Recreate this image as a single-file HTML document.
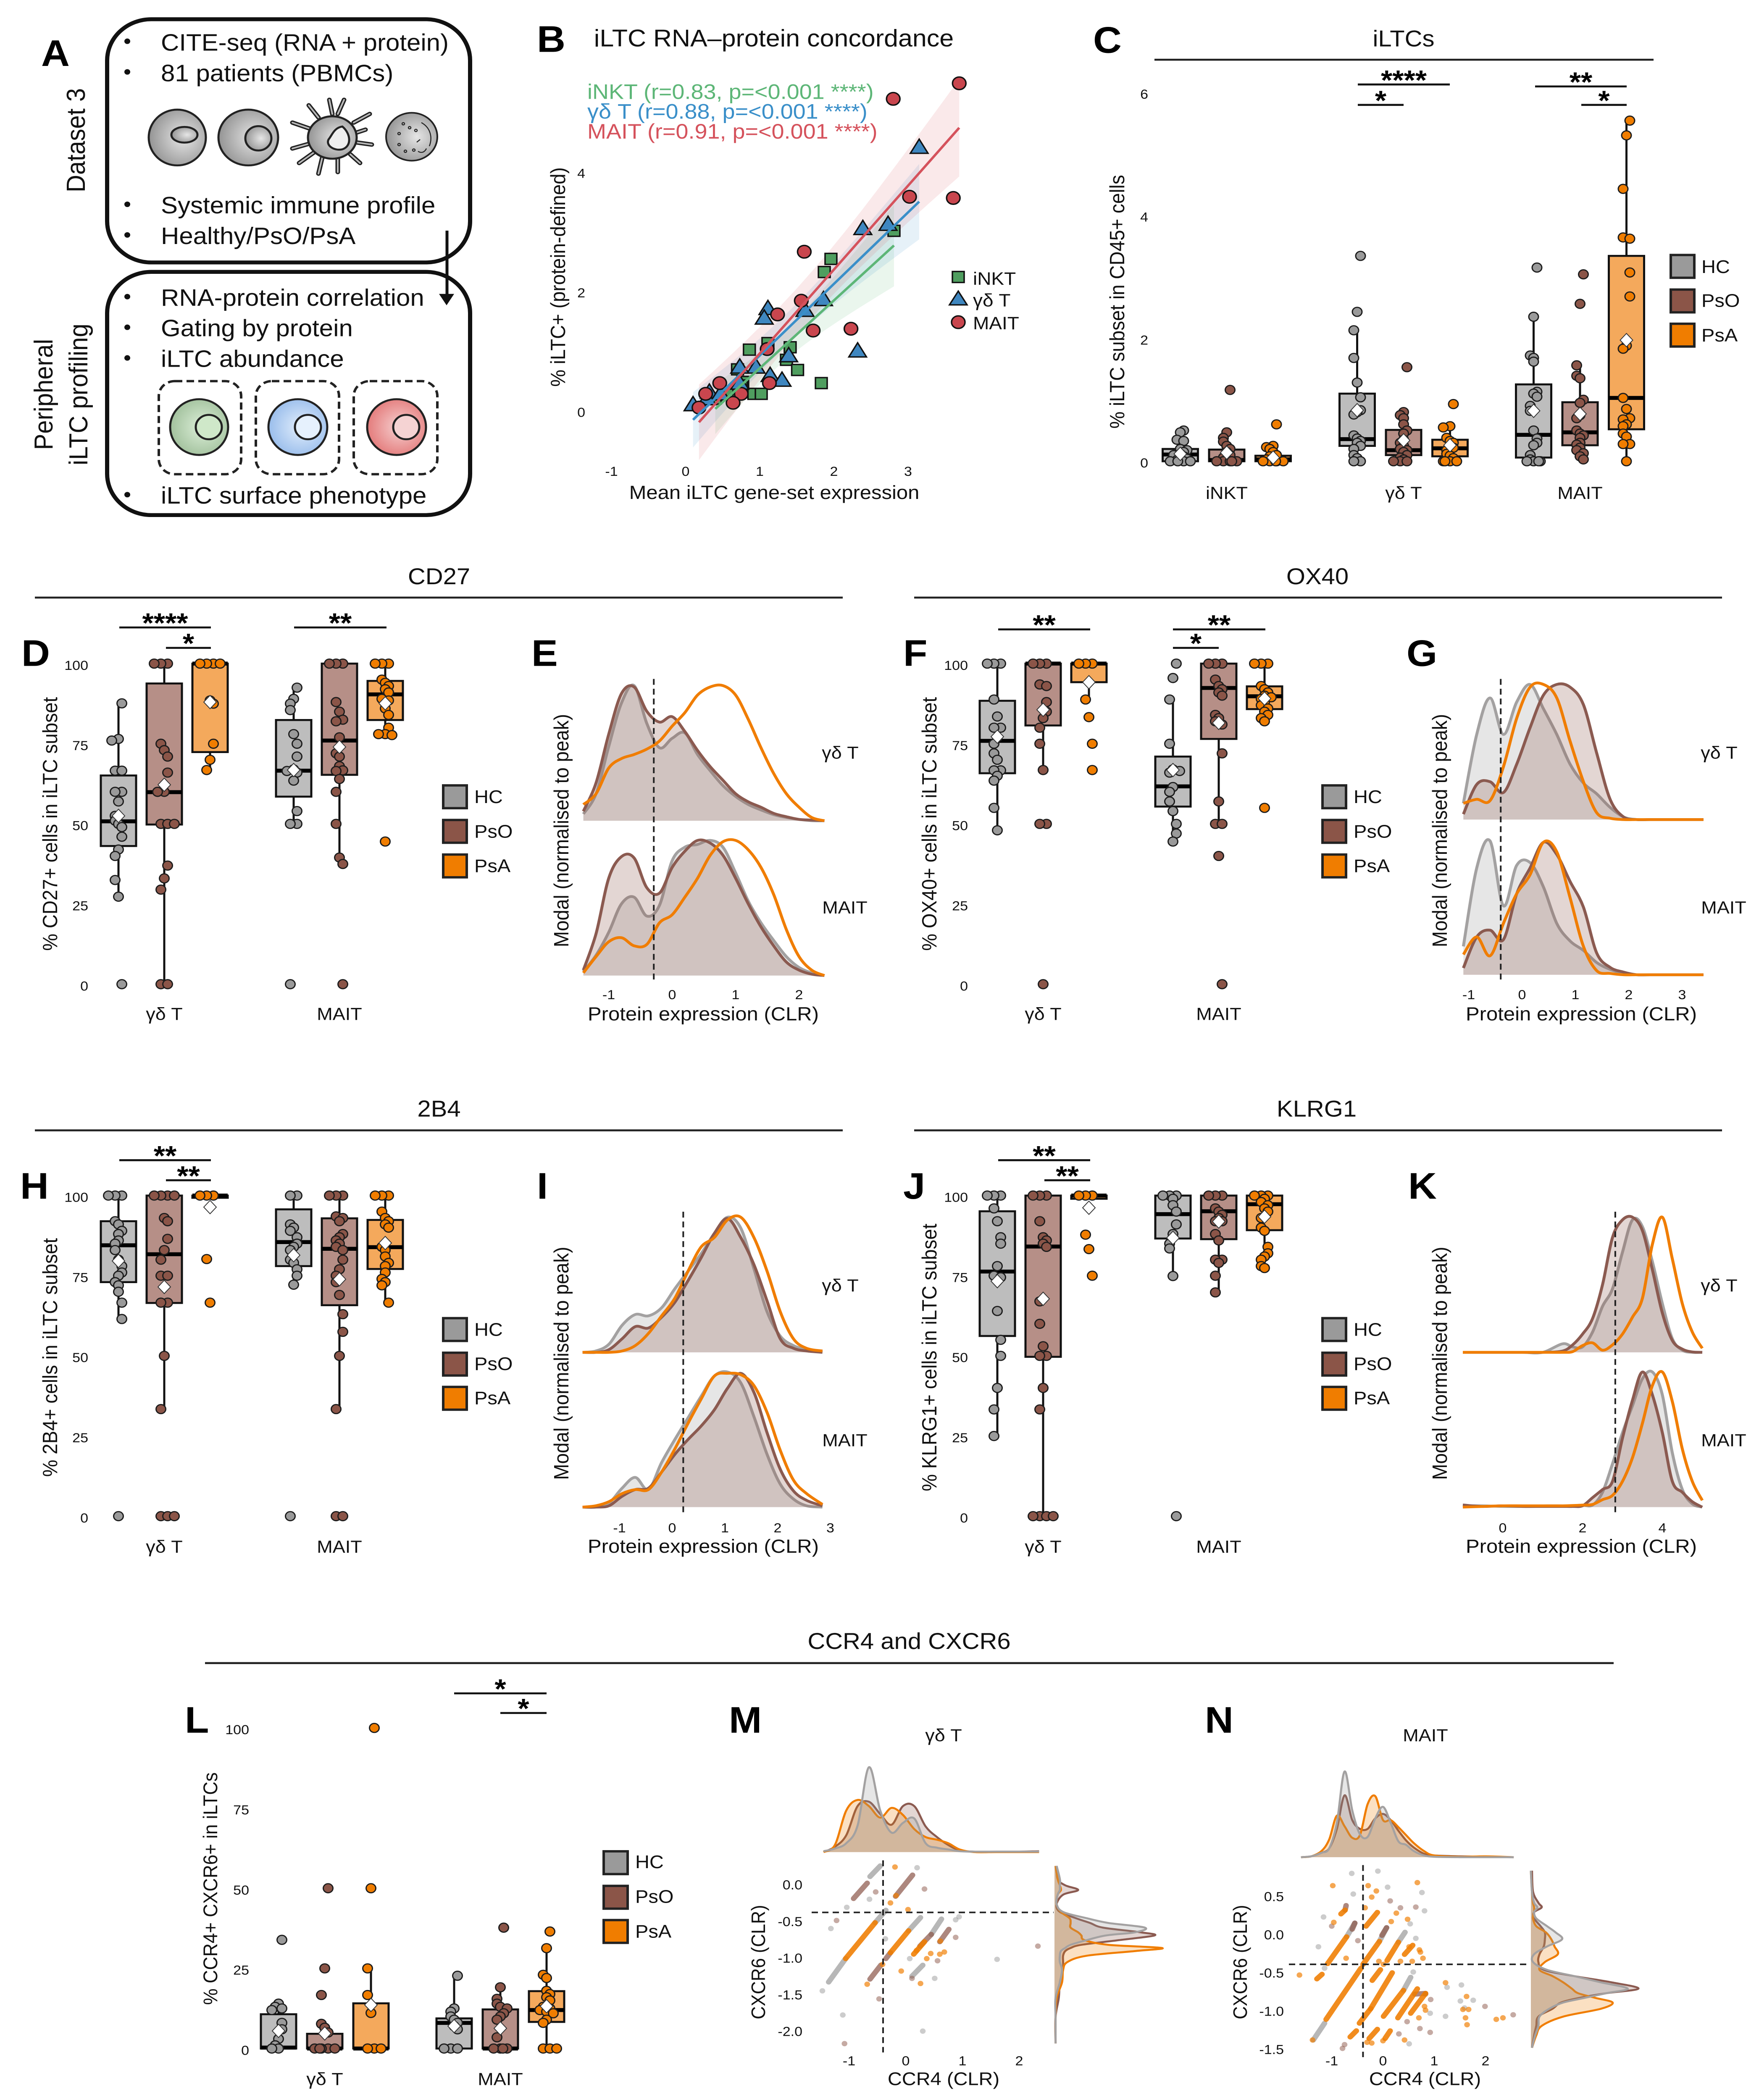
<!DOCTYPE html>
<html lang="en">
<head>
<meta charset="utf-8">
<title>iLTC figure</title>
<style>
html,body{margin:0;padding:0;background:#fff;width:4187px;height:5345px;overflow:hidden}
svg{position:absolute;left:0;top:0;display:block;font-family:"Liberation Sans",sans-serif;fill:#111}
.ltr{font-size:94px;font-weight:700;fill:#000}
.ttl{font-size:58px;text-anchor:middle}
.ax{font-size:49px;text-anchor:middle;dominant-baseline:central}
.tk{font-size:34px}
.cat{font-size:45px;text-anchor:middle}
.leg{font-size:47px;dominant-baseline:central}
.txt{font-size:60px}
.side{font-size:62px;text-anchor:middle;dominant-baseline:central}
.rule{stroke:#222;stroke-width:5}
.sw{stroke:#222;stroke-width:6}
</style>
</head>
<body>
<svg id="figure" xmlns="http://www.w3.org/2000/svg" width="4187" height="5345" viewBox="0 0 4187 5345" preserveAspectRatio="none">
<defs>
<radialGradient id="gGray" cx="60%" cy="50%" r="65%"><stop offset="0" stop-color="#e6e6e6"/><stop offset="1" stop-color="#8d8d8d"/></radialGradient>
<radialGradient id="gGreen" cx="55%" cy="50%" r="60%"><stop offset="0" stop-color="#dcefd8"/><stop offset="1" stop-color="#9dbd98"/></radialGradient>
<radialGradient id="gBlue" cx="55%" cy="50%" r="60%"><stop offset="0" stop-color="#e2eefc"/><stop offset="1" stop-color="#93b9ea"/></radialGradient>
<radialGradient id="gRed" cx="55%" cy="50%" r="60%"><stop offset="0" stop-color="#f6d0d0"/><stop offset="1" stop-color="#e27474"/></radialGradient>
</defs>
<rect width="4187" height="5345" fill="#fff"/>

<!-- Panel A -->
<g id="panel-a">
<text class="ltr" x="98" y="168">A</text>
<rect x="255" y="49" width="864" height="619" rx="105" fill="none" stroke="#111" stroke-width="10"/>
<rect x="255" y="692" width="864" height="619" rx="105" fill="none" stroke="#111" stroke-width="10"/>
<text class="side" transform="translate(181 357) rotate(-90)">Dataset 3</text>
<text class="side" transform="translate(104 1004) rotate(-90)">Peripheral</text>
<text class="side" transform="translate(187 1004) rotate(-90)">iLTC profiling</text>
<g fill="#111">
<circle cx="303" cy="105" r="7"/><circle cx="303" cy="183" r="7"/><circle cx="303" cy="520" r="7"/><circle cx="303" cy="598" r="7"/>
<circle cx="303" cy="755" r="7"/><circle cx="303" cy="833" r="7"/><circle cx="303" cy="911" r="7"/><circle cx="303" cy="1259" r="7"/>
</g>
<text class="txt" x="383" y="129">CITE-seq (RNA + protein)</text>
<text class="txt" x="383" y="207">81 patients (PBMCs)</text>
<text class="txt" x="383" y="543">Systemic immune profile</text>
<text class="txt" x="383" y="621">Healthy/PsO/PsA</text>
<text class="txt" x="383" y="778">RNA-protein correlation</text>
<text class="txt" x="383" y="856">Gating by protein</text>
<text class="txt" x="383" y="934">iLTC abundance</text>
<text class="txt" x="383" y="1282">iLTC surface phenotype</text>
<g stroke="#222" stroke-width="5">
<ellipse cx="422" cy="350" rx="68" ry="71" fill="url(#gGray)"/><ellipse cx="439" cy="343" rx="31" ry="20" fill="url(#gGray)"/>
<ellipse cx="591" cy="350" rx="71" ry="71" fill="url(#gGray)"/><ellipse cx="615" cy="352" rx="31" ry="31" fill="url(#gGray)"/>
<path d="M735 268L758 299M784 254L791 290M819 254L804 290M880 290L842 312M696 312L742 329M696 378L742 364M712 415L750 386M758 442L768 397M804 438L804 400M857 415L834 393M885 368L845 362M870 330L850 337" stroke="#222" stroke-width="11" stroke-linecap="round" fill="none"/>
<path d="M735 268L758 299M784 254L791 290M819 254L804 290M880 290L842 312M696 312L742 329M696 378L742 364M712 415L750 386M758 442L768 397M804 438L804 400M857 415L834 393M885 368L845 362M870 330L850 337" stroke="#bbb" stroke-width="4" stroke-linecap="round" fill="none"/>
<ellipse cx="791" cy="350" rx="58" ry="54" fill="url(#gGray)"/>
<path d="M815 322C835 340 838 372 815 380C795 385 775 370 782 355C790 345 795 325 815 322Z" fill="#eee"/>
<ellipse cx="980" cy="348" rx="61" ry="61" fill="url(#gGray)" stroke-width="4"/>
<g fill="none" stroke-width="2.5"><circle cx="960" cy="315" r="3"/><circle cx="975" cy="325" r="3"/><circle cx="950" cy="340" r="3"/><circle cx="990" cy="332" r="3"/><circle cx="965" cy="385" r="3"/><circle cx="950" cy="368" r="3"/><circle cx="985" cy="382" r="3"/><path d="M1003 312C1025 325 1030 350 1022 372M1000 355L992 362M995 385C1005 392 1012 385 1015 378"/></g>
</g>
<g stroke="#222" stroke-width="5">
<rect x="378" y="970" width="196" height="237" rx="38" fill="none" stroke-dasharray="18 10" stroke-width="6"/>
<rect x="609" y="970" width="198" height="237" rx="38" fill="none" stroke-dasharray="18 10" stroke-width="6"/>
<rect x="842" y="970" width="199" height="237" rx="38" fill="none" stroke-dasharray="18 10" stroke-width="6"/>
<ellipse cx="474" cy="1087" rx="69" ry="71" fill="url(#gGreen)"/><ellipse cx="497" cy="1087" rx="31" ry="31" fill="#cfe8c9"/>
<ellipse cx="709" cy="1087" rx="70" ry="71" fill="url(#gBlue)"/><ellipse cx="733" cy="1087" rx="31" ry="31" fill="#e6f1fd"/>
<ellipse cx="944" cy="1087" rx="70" ry="71" fill="url(#gRed)"/><ellipse cx="967" cy="1087" rx="31" ry="31" fill="#f5d3d3"/>
</g>
<g><line x1="1064" y1="587" x2="1064" y2="755" stroke="#111" stroke-width="7"/><path d="M1045 748H1081L1063 777Z" fill="#111"/></g>
</g>

<!-- Panel B static -->
<text class="ltr" x="1278" y="132">B</text>
<text class="ttl" style="font-size:61px" x="1842" y="118">iLTC RNA–protein concordance</text>
<text x="1398" y="252" font-size="54" fill="#5db677">iNKT (r=0.83, p=&lt;0.001 ****)</text>
<text x="1398" y="302" font-size="54" fill="#3a8fc9">γδ T (r=0.88, p=&lt;0.001 ****)</text>
<text x="1398" y="353" font-size="54" fill="#d5525c">MAIT (r=0.91, p=&lt;0.001 ****)</text>
<text class="ax" transform="translate(1329 705) rotate(-90)">% iLTC+ (protein-defined)</text>
<text class="ax" x="1843" y="1254">Mean iLTC gene-set expression</text>
<g>
<rect x="2267" y="691" width="28" height="28" fill="#4f9e5f" stroke="#111" stroke-width="3.5"/>
<path d="M2260 776H2302L2281 741Z" fill="#3f87c0" stroke="#111" stroke-width="3.5"/>
<circle cx="2281" cy="820" r="16" fill="#c9464e" stroke="#111" stroke-width="3.5"/>
<text x="2316" y="725" font-size="46">iNKT</text>
<text x="2316" y="780" font-size="46">γδ T</text>
<text x="2316" y="838" font-size="46">MAIT</text>
</g>
<g id="marks-b"></g>

<!-- Panel C static -->
<text class="ltr" x="2602" y="134">C</text>
<text class="ttl" x="3341" y="118">iLTCs</text>
<line class="rule" x1="2748" y1="152" x2="3936" y2="152"/>
<text class="ax" transform="translate(2660 768) rotate(-90)">% iLTC subset in CD45+ cells</text>
<g>
<rect class="sw" x="3977" y="649" width="56" height="58" fill="#9a9a9a"/><rect class="sw" x="3977" y="737" width="56" height="58" fill="#8b5548"/><rect class="sw" x="3977" y="824" width="56" height="58" fill="#f07d00"/>
<text class="leg" x="4050" y="679">HC</text><text class="leg" x="4050" y="765">PsO</text><text class="leg" x="4050" y="853">PsA</text>
</g>
<g id="marks-c"></g>

<!-- CD27 -->
<text class="ttl" x="1045" y="1487">CD27</text>
<line class="rule" x1="83" y1="1521" x2="2006" y2="1521"/>
<text class="ltr" x="51" y="1695">D</text>
<text class="ltr" x="1265" y="1695">E</text>
<text class="ax" transform="translate(120 2097) rotate(-90)">% CD27+ cells in iLTC subset</text>
<text class="ax" transform="translate(1337 2114) rotate(-90)">Modal (normalised to peak)</text>
<text class="ax" x="1674" y="2581">Protein expression (CLR)</text>
<text class="cat" x="2000" y="1931">γδ T</text>
<text class="cat" x="2011" y="2325">MAIT</text>
<g>
<rect class="sw" x="1055" y="1999" width="56" height="58" fill="#9a9a9a"/><rect class="sw" x="1055" y="2087" width="56" height="58" fill="#8b5548"/><rect class="sw" x="1055" y="2175" width="56" height="58" fill="#f07d00"/>
<text class="leg" x="1129" y="2028">HC</text><text class="leg" x="1129" y="2116">PsO</text><text class="leg" x="1129" y="2204">PsA</text>
</g>
<g id="marks-d"></g>
<g id="marks-e"></g>

<!-- OX40 -->
<text class="ttl" x="3136" y="1487">OX40</text>
<line class="rule" x1="2176" y1="1521" x2="4099" y2="1521"/>
<text class="ltr" x="2150" y="1695">F</text>
<text class="ltr" x="3348" y="1695">G</text>
<text class="ax" transform="translate(2213 2097) rotate(-90)">% OX40+ cells in iLTC subset</text>
<text class="ax" transform="translate(3428 2114) rotate(-90)">Modal (normalised to peak)</text>
<text class="ax" x="3764" y="2581">Protein expression (CLR)</text>
<text class="cat" x="4092" y="1931">γδ T</text>
<text class="cat" x="4103" y="2325">MAIT</text>
<g>
<rect class="sw" x="3148" y="1999" width="56" height="58" fill="#9a9a9a"/><rect class="sw" x="3148" y="2087" width="56" height="58" fill="#8b5548"/><rect class="sw" x="3148" y="2175" width="56" height="58" fill="#f07d00"/>
<text class="leg" x="3222" y="2028">HC</text><text class="leg" x="3222" y="2116">PsO</text><text class="leg" x="3222" y="2204">PsA</text>
</g>
<g id="marks-f"></g>
<g id="marks-g"></g>

<!-- 2B4 -->
<text class="ttl" x="1045" y="2842">2B4</text>
<line class="rule" x1="83" y1="2877" x2="2006" y2="2877"/>
<text class="ltr" x="48" y="3051">H</text>
<text class="ltr" x="1278" y="3051">I</text>
<text class="ax" transform="translate(120 3455) rotate(-90)">% 2B4+ cells in iLTC subset</text>
<text class="ax" transform="translate(1337 3470) rotate(-90)">Modal (normalised to peak)</text>
<text class="ax" x="1674" y="3936">Protein expression (CLR)</text>
<text class="cat" x="2000" y="3287">γδ T</text>
<text class="cat" x="2011" y="3681">MAIT</text>
<g>
<rect class="sw" x="1055" y="3355" width="56" height="58" fill="#9a9a9a"/><rect class="sw" x="1055" y="3443" width="56" height="58" fill="#8b5548"/><rect class="sw" x="1055" y="3530" width="56" height="58" fill="#f07d00"/>
<text class="leg" x="1129" y="3384">HC</text><text class="leg" x="1129" y="3471">PsO</text><text class="leg" x="1129" y="3558">PsA</text>
</g>
<g id="marks-h"></g>
<g id="marks-i"></g>

<!-- KLRG1 -->
<text class="ttl" x="3134" y="2842">KLRG1</text>
<line class="rule" x1="2176" y1="2877" x2="4099" y2="2877"/>
<text class="ltr" x="2150" y="3051">J</text>
<text class="ltr" x="3352" y="3051">K</text>
<text class="ax" transform="translate(2213 3455) rotate(-90)">% KLRG1+ cells in iLTC subset</text>
<text class="ax" transform="translate(3428 3470) rotate(-90)">Modal (normalised to peak)</text>
<text class="ax" x="3764" y="3936">Protein expression (CLR)</text>
<text class="cat" x="4092" y="3287">γδ T</text>
<text class="cat" x="4103" y="3681">MAIT</text>
<g>
<rect class="sw" x="3148" y="3355" width="56" height="58" fill="#9a9a9a"/><rect class="sw" x="3148" y="3443" width="56" height="58" fill="#8b5548"/><rect class="sw" x="3148" y="3530" width="56" height="58" fill="#f07d00"/>
<text class="leg" x="3222" y="3384">HC</text><text class="leg" x="3222" y="3471">PsO</text><text class="leg" x="3222" y="3558">PsA</text>
</g>
<g id="marks-j"></g>
<g id="marks-k"></g>

<!-- CCR4 / CXCR6 -->
<text class="ttl" x="2164" y="4197">CCR4 and CXCR6</text>
<line class="rule" x1="488" y1="4233" x2="3841" y2="4233"/>
<text class="ltr" x="440" y="4410">L</text>
<text class="ltr" x="1735" y="4410">M</text>
<text class="ltr" x="2868" y="4410">N</text>
<text class="ax" style="font-size:47px" transform="translate(501 4807) rotate(-90)">% CCR4+ CXCR6+ in iLTCs</text>
<g>
<rect class="sw" x="1437" y="4712" width="57" height="58" fill="#9a9a9a"/><rect class="sw" x="1437" y="4800" width="57" height="58" fill="#8b5548"/><rect class="sw" x="1437" y="4887" width="57" height="58" fill="#f07d00"/>
<text class="leg" x="1512" y="4739">HC</text><text class="leg" x="1512" y="4827">PsO</text><text class="leg" x="1512" y="4916">PsA</text>
</g>
<text class="cat" x="2246" y="4432">γδ T</text>
<text class="cat" x="3393" y="4432">MAIT</text>
<text class="ax" style="font-size:47px" x="2246" y="5291">CCR4 (CLR)</text>
<text class="ax" style="font-size:47px" x="3392" y="5291">CCR4 (CLR)</text>
<text class="ax" style="font-size:46px" transform="translate(1806 4994) rotate(-90)">CXCR6 (CLR)</text>
<text class="ax" style="font-size:46px" transform="translate(2953 4994) rotate(-90)">CXCR6 (CLR)</text>
<g id="marks-l"></g>
<g id="marks-m"></g>
<g id="marks-n"></g>
</svg>

<script>
/* ---------- Panel B data ---------- */
const bXTicks=[-1,0,1,2,3];
const bYTicks=[0,2,4];
const bInkt=[[2.81,3.01],[1.96,2.54],[1.87,2.32],[1.11,1.13],[.86,1.02],[1.41,1.06],[1.36,.85],[1.51,.68],[.70,.69],[1.83,.46],[.77,.48],[.75,.42],[.92,.28],[1.02,.28],[.56,.29],[.4,.2]];
const bGd=[[3.15,4.42],[2.39,3.06],[2.73,3.13],[1.86,1.87],[1.61,1.69],[1.11,1.72],[1.06,1.56],[2.32,1.01],[1.39,.93],[.95,.74],[.73,.74],[1.14,.6],[1.3,.52],[.73,.47],[.32,.32],[.47,.29],[.1,.11],[.29,.21]];
const bMait=[[3.69,5.48],[2.80,5.22],[3.02,3.58],[3.61,3.56],[1.60,2.66],[1.56,1.84],[1.24,1.61],[1.72,1.34],[2.23,1.37],[1.10,1.03],[1.13,.46],[.46,.46],[.27,.28],[.75,.28],[.64,.13],[.18,.05]];

/* ---------- Panel C data: box = [whiskerLow,q1,median,q3,whiskerHigh,mean] ---------- */
const cCategories=['iNKT','γδ T','MAIT'];
const cTicks=[0,2,4,6];
const cInktBox=[[0,0,.11,.2,.2,.12],[0,0,.02,.19,.19,.14],[0,0,.03,.09,.09,.06]];
const cGdBox=[[0,.25,.36,1.10,2.12,.83],[0,.1,.18,.51,.8,.34],[0,.08,.21,.35,.57,.26]];
const cMaitBox=[[0,.06,.43,1.25,2.34,.82],[0,.26,.47,.96,1.55,.77],[0,.52,1.03,3.34,5.54,1.97]];
const cInktPts=[[.5,.47,.35,.33,.2,.18,.15,.12,.1,.08,.05,.04,.02,0,0,0,0],[1.16,.47,.38,.32,.25,.2,.15,.1,.06,.03,0,0,0,0,0],[.6,.25,.23,.2,.15,.1,.08,.05,.03,0,0,0,0,0]];
const cGdPts=[[3.34,2.43,2.13,1.68,1.28,1.04,.83,.8,.76,.42,.37,.33,.3,.25,.2,.1,.05,0,0],[1.53,.8,.75,.7,.6,.5,.45,.35,.3,.25,.2,.18,.15,.1,.06,.03,0,0,0],[.93,.57,.55,.38,.33,.3,.25,.22,.18,.12,.09,.05,0,0,0,0]];
const cMaitPts=[[3.15,2.35,1.72,1.68,1.62,1.13,1.1,1.05,.9,.82,.5,.37,.3,.26,.1,.03,0,0,0,0],[3.04,2.56,1.56,1.39,1.35,1,.95,.75,.7,.5,.45,.42,.38,.3,.27,.22,.18,.13,.08,.03],[5.54,5.3,4.43,3.64,3.62,3.07,2.68,1.88,1.83,1.03,.85,.7,.68,.6,.57,.45,.4,.28,.28,0]];

/* ---------- Shared percent axis ---------- */
const pctTicks=[0,25,50,75,100];
const subsetCategories=['γδ T','MAIT'];

/* ---------- Panel D data ---------- */
const dGdBox=[[27.3,43.1,50.8,65.1,87.6,52.5],[0,49.8,59.9,93.8,100,62.2],[66.8,72.4,100,100,100,88]];
const dMaitBox=[[50,58.5,66.6,82.4,92,66.8],[37.3,65.3,76,100,100,74],[77.7,82.4,90.4,94.6,100,87.6]];
const dGdPts=[[87.6,76.5,76,66.6,66.6,60,60,57,52.5,51,50,49,46,42,40,32.5,27.3,0],[100,100,100,75,73,71,66,60,60,50,50,50,37,33,29.5,0,0],[100,100,100,100,88.5,87.5,75,70,66.8]];
const dMaitPts=[[92.5,89,87.5,85.5,78,75,71,67,66.5,66,63.5,54,50,50,0],[100,100,100,88,85,82.5,82,77,72,71,68,66.7,66.5,64,60,50,39.5,37.5,0],[100,100,100,95,94,93,92,91,89,88.5,86,84,80,78,78,77.7,44.5]];

/* ---------- Panel E data ---------- */
const eTicks=[-1,0,1,2];
const eCut=[-.29];
const eX=[-1.4,-1.2,-1,-.8,-.6,-.4,-.2,0,.2,.4,.6,.8,1,1.2,1.4,1.6,1.8,2,2.2,2.4];
const eGdHC=[.05,.2,.55,.87,1,.72,.54,.61,.65,.49,.37,.26,.18,.12,.08,.045,.024,.01,0,0];
const eGdPsO=[.07,.28,.64,.94,.99,.81,.73,.77,.66,.52,.4,.3,.2,.14,.1,.055,.03,.01,.005,0];
const eGdPsA=[.12,.2,.39,.46,.49,.53,.59,.7,.8,.93,.99,1,.93,.75,.54,.35,.2,.1,.024,0];
const eMaitHC=[.03,.15,.32,.53,.58,.44,.52,.85,.95,.97,1,.95,.76,.55,.39,.26,.14,.06,.02,0];
const eMaitPsO=[.04,.31,.72,.88,.87,.65,.61,.8,.92,1,.98,.89,.72,.53,.36,.22,.1,.04,.01,0];
const eMaitPsA=[.02,.14,.25,.28,.22,.23,.39,.45,.58,.72,.89,.99,1,.93,.8,.6,.34,.14,.04,0];

/* ---------- Panel F data ---------- */
const fGdBox=[[48,65.8,75.9,88.4,100,77.2],[66.8,80.7,100,100,100,85.6],[88.8,94.2,100,100,100,94.2]];
const fMaitBox=[[44.4,55.4,61.7,71,88.8,66.8],[50,76.5,92.4,100,100,81.5],[81.8,85.8,89.8,92.9,100,89.1]];
const fGdPts=[[100,100,100,88.8,83.5,80,80,77,75,72,70,66.7,66.7,65,63.5,55,48],[100,100,100,93.5,93,88,85,83,80,75,66.8,50,50,0],[100,100,100,88.8,83.3,75,66.8]];
const fMaitPts=[[100,95.5,88.8,75,67,66.5,66,61.5,60,57,54,50,47,44.5],[100,100,100,95,93,92,91,90,84,83,82,81,72,57,50,50,40,0],[100,100,100,93,92,91,90,89.5,89,88,87,86,85,84,83,82,55]];

/* ---------- Panel G data ---------- */
const gTicks=[-1,0,1,2,3];
const gCut=[-.4];
const gX=[-1.1,-.85,-.6,-.35,-.1,.15,.4,.65,.9,1.15,1.4,1.65,1.9,2.15,2.4,2.65,2.9,3.15,3.4];
const gGdHC=[.12,.63,.9,.63,.87,1,.82,.63,.41,.27,.19,.09,.02,0,0,0,0,0,0];
const gGdPsO=[.04,.26,.28,.2,.41,.68,.92,1,.98,.85,.49,.15,.02,0,0,0,0,0,0];
const gGdPsA=[.12,.15,.14,.39,.75,.98,1,.9,.58,.28,.05,.01,0,0,0,0,0,0,0];
const gMaitHC=[.21,.79,.99,.51,.81,.83,.65,.38,.25,.18,.09,.04,.01,0,0,0,0,0,0];
const gMaitPsO=[.05,.28,.33,.26,.6,.79,.98,.89,.69,.5,.16,.055,.02,0,0,0,0,0,0];
const gMaitPsA=[.15,.28,.14,.38,.6,.74,.98,.91,.57,.21,.03,.01,0,0,0,0,0,0,0];

/* ---------- Panel H data ---------- */
const hGdBox=[[61.5,73,84.5,92,100,79.6],[33.4,66.5,81.7,100,100,71.5],[99.3,99.3,100,100,100,96.4]];
const hMaitBox=[[72.2,78,85.5,95.7,100,81.4],[33.4,65.8,83.4,92.9,100,73.9],[66.6,77.1,83.9,92.4,100,85.2]];
const hGdPts=[[100,100,100,92,91,89,88,86,85,83,80,78,76,75,73,72,70,66.6,61.5,0],[100,100,100,100,93,92,86.5,83,80,75,75,66.6,66.6,50,33.4,0,0,0],[100,100,100,80.2,66.6]];
const hMaitPts=[[100,100,91,90,89,87,85,84,83,80,79,77,75,72.2,0],[100,100,100,93.5,93,92,88,87,86,85,84,83,80,77,75,73,69,63,57.5,50,33.4,0,0],[100,100,100,95,93,92,91,90,84,83,81,79,78,76,74,73,72,66.6]];

/* ---------- Panel I data ---------- */
const iTicks=[-1,0,1,2,3];
const iCut=[.21];
const iX=[-1.7,-1.45,-1.2,-.95,-.7,-.45,-.2,.05,.3,.55,.8,1.05,1.3,1.55,1.8,2.05,2.3,2.55,2.85];
const iGdHC=[0,.01,.06,.2,.28,.27,.33,.47,.6,.73,.88,1,.92,.62,.3,.12,.05,.02,0];
const iGdPsO=[0,0,.02,.1,.19,.18,.26,.37,.53,.7,.88,.99,.85,.65,.38,.1,.03,.01,0];
const iGdPsA=[0,0,0,.01,.05,.14,.27,.4,.6,.78,.85,.98,1,.85,.6,.3,.1,.03,.01];
const iMaitHC=[0,0,.03,.14,.22,.13,.33,.5,.66,.82,.97,1,.92,.67,.39,.17,.06,.01,0];
const iMaitPsO=[0,0,.01,.08,.13,.14,.26,.39,.5,.6,.72,.88,.99,.85,.55,.28,.12,.05,.01];
const iMaitPsA=[0,.01,.04,.1,.13,.13,.26,.43,.62,.8,.97,.99,.98,.9,.7,.42,.2,.1,.02];

/* ---------- Panel J data ---------- */
const jGdBox=[[24.9,56.2,76.3,95.1,100,73.3],[0,49.7,84.1,100,100,67.8],[99,99,100,100,100,96.2]];
const jMaitBox=[[74.9,86.6,94.2,100,100,86.8],[69.8,86.4,95.1,100,100,91.9],[77.4,89.2,97.3,100,100,93.4]];
const jGdPts=[[100,100,100,96,92,87,85,78,75,74.5,64,55,50,40,33.3,25],[100,100,100,92,87,86,85,84,67,60,53,50,50,40,33.3,0,0,0,0],[100,100,100,87.8,83.3,75]];
const jMaitPts=[[100,100,100,99,97,95,91,88,85,83.5,74.9,0],[100,100,100,96,95,94,93,92,92,88,86,80,80,79,75,69.8],[100,100,100,99,98,97,96,95,93,90,89,84,82,81,80,78,77.4]];

/* ---------- Panel K data ---------- */
const kTicks=[0,2,4];
const kCut=[2.82];
const kX=[-1,-.5,0,.5,1,1.5,1.75,2,2.25,2.5,2.75,3,3.25,3.5,3.75,4,4.25,4.5,4.75,5];
const kGdHC=[0,0,0,0,0,.063,.04,.04,.15,.34,.47,.74,.98,.93,.67,.36,.1,.016,0,0];
const kGdPsO=[0,0,0,0,0,.01,.055,.135,.25,.5,.85,.98,1,.9,.61,.29,.087,.024,.003,0];
const kGdPsA=[0,0,0,0,0,0,.005,.05,.07,.016,.055,.135,.26,.4,.8,1,.69,.36,.15,.03];
const kMaitHC=[.01,.01,.005,.005,.01,.01,.01,.015,.015,.11,.32,.55,.75,.95,1,.83,.4,.13,.024,0];
const kMaitPsO=[.016,.005,.01,.005,.005,.005,.005,.01,.07,.13,.19,.51,.79,1,.83,.55,.19,.11,.04,0];
const kMaitPsA=[0,.005,.01,.01,.01,.01,.012,.015,.02,.055,.087,.19,.365,.62,.9,1,.78,.43,.19,.05];

/* ---------- Panel L data ---------- */
const lGdBox=[[0,0,.3,10.7,14,5.5],[0,0,0,4.6,7.6,4.7],[0,0,0,14.1,25,13.6]];
const lMaitBox=[[0,0,8,9.4,22.7,7],[0,0,0,12.2,19.1,6.3],[0,8.3,12,17.9,31.3,13.2]];
const lGdPts=[[33.9,14,13,12.5,12,8,6,3,1,0,0],[50,25,16.7,7.7,6.5,5,0,0,0,0,0],[100,50,25,16.7,11.1,0,0,0]];
const lMaitPts=[[22.7,12.5,11.5,10,9,8,7,6,0,0,0],[37.7,19.1,15.5,14,13,12.5,11,10,9,3.5,0,0,0,0],[36.5,31.3,23,22,18,17,16,15,13,12.5,12,11.5,11,9,8,0,0,0]];

/* ---------- Panel M data ---------- */
const mXTicks=[-1,0,1,2];
const mYTicks=[0,-.5,-1,-1.5,-2];
const mCut=[-.4,-.4];
const mTopX=[-1.45,-1.25,-1.05,-.85,-.65,-.45,-.25,-.05,.15,.35,.55,.75,.95,1.2,1.6,2,2.35];
const mTopHC=[.01,.04,.1,.3,.96,.47,.22,.33,.38,.1,.05,.03,.01,.005,.005,.005,.005];
const mTopPsO=[0,.06,.19,.52,.57,.43,.31,.52,.52,.29,.17,.08,.02,.005,.005,.005,.01];
const mTopPsA=[0,.08,.47,.59,.52,.39,.5,.42,.26,.17,.14,.1,.03,0,0,0,0];
const mSideY=[.235,.055,-.03,-.094,-.158,-.286,-.393,-.479,-.543,-.607,-.671,-.714,-.778,-.842,-.885,-.927,-.991,-1.077,-1.184,-1.355,-1.568,-1.825,-2.188];
const mSideHC=[.02,.05,.05,.05,.03,.02,.08,.3,.5,.84,.75,.48,.3,.15,.1,.06,.05,.05,.07,.05,.01,.01,.01];
const mSidePsO=[.02,.03,.1,.22,.08,.02,.05,.2,.33,.45,.8,.93,.6,.25,.15,.1,.08,.08,.08,.05,.04,.01,.01];
const mSidePsA=[.01,.03,.05,.06,.03,.02,.06,.14,.15,.15,.22,.25,.28,.5,1,.75,.3,.12,.08,.07,.02,.01,.01];
const mDotsHC=[[-1.47,-1.47],[-1.11,-1.8],[-1.32,-.62],[-1.04,-.33],[-.64,-.22],[-.36,-.76],[.2,.21],[.88,-.5],[.94,-.46],[1.61,-1.04],[.3,-2.02],[.51,-1.3],[.07,-1.03]];
const mDotsPsO=[[-.53,-.12],[.33,-.08],[.88,-.74],[2.33,-.86],[-.47,-1.58],[-1.08,-2.19],[.11,-1.3],[.56,-1.06],[-1.22,-.51]];
const mDotsPsA=[[-.19,.22],[-.27,-.27],[-.17,-.17],[.04,-.36],[.61,-.79],[.68,-.94],[.37,-1.03],[.44,-.96],[-.08,-1.2],[.26,-1.37],[-.68,-1.38],[-.41,-1.11],[.19,-.92],[.6,-.97]];
const mRunsHC=[[-.63,.09,-.45,.235],[-.54,-.54,-.35,-.37],[-1.36,-1.35,-1.06,-1.03],[.05,-.65,.26,-.47],[.11,-1.27,.3,-1.12],[.45,-.7,.63,-.49]];
const mRunsPsO=[[-.92,-.21,-.68,0],[-.18,-.18,.12,.11],[-.35,-1.03,-.27,-.95],[-.63,-1.31,-.44,-1.12],[.25,-.86,.45,-.7],[.6,-.8,.76,-.63]];
const mRunsPsA=[[-1.06,-1.03,-.54,-.54],[-.27,-.95,.05,-.65],[.14,-.97,.33,-.8]];

/* ---------- Panel N data ---------- */
const nXTicks=[-1,0,1,2];
const nYTicks=[.5,0,-.5,-1,-1.5];
const nCut=[-.39,-.41];
const nTopX=[-1.6,-1.4,-1.2,-1.05,-.9,-.75,-.6,-.45,-.3,-.15,0,.15,.3,.45,.6,.8,1,1.5,2,2.55];
const nTopHC=[0,.01,.05,.1,.39,.97,.53,.26,.23,.44,.57,.39,.18,.14,.07,.02,.005,0,0,0];
const nTopPsO=[0,.01,.05,.1,.32,.7,.42,.32,.32,.44,.49,.42,.3,.19,.11,.04,.02,.01,.005,0];
const nTopPsA=[0,.01,.07,.2,.47,.35,.22,.25,.6,.69,.42,.42,.34,.25,.16,.07,.02,.005,.01,0];
const nSideY=[.816,.539,.396,.335,.273,.192,.09,.008,-.082,-.176,-.278,-.38,-.482,-.563,-.645,-.727,-.788,-.849,-.91,-.992,-1.094,-1.216,-1.339,-1.502];
const nSideHC=[0,.01,.03,.06,.03,.05,.15,.23,.29,.15,.03,.02,.15,.4,.65,.9,.7,.5,.3,.17,.08,.07,.04,.01];
const nSidePsO=[.01,.02,.07,.1,.03,.03,.09,.13,.13,.12,.08,.07,.12,.4,.75,1,.7,.45,.28,.2,.07,.05,.03,.01];
const nSidePsA=[0,.01,.02,.03,.03,.02,.05,.14,.19,.22,.25,.13,.08,.2,.3,.38,.44,.6,.76,.65,.3,.1,.05,.01];
const nDotsHC=[[-.61,.78],[-.1,.81],[-.58,.51],[.09,.6],[.76,.53],[.81,.29],[-1.16,.21],[-1.26,-.18],[-1.14,-.46],[.53,.12],[.64,-.07],[.59,-.51],[1.25,-.71],[1.53,-.68],[1.51,-.89],[1.76,-.88],[1.22,-1.09],[.92,-1.05],[.51,-1.45],[1.59,-.98]];
const nDotsPsO=[[.14,.42],[.34,.33],[.64,.34],[-1,.09],[-.49,-.1],[.83,-.8],[.93,-.87],[1.99,-.96],[2.54,-1.07],[.72,-1.25],[.92,-1.3],[.47,-1.16],[-.79,-1.51],[-.75,-1.46],[.31,-1.32]];
const nDotsPsA=[[-.98,.62],[-.29,.62],[-.13,.55],[-.22,.47],[.67,.66],[-.35,.33],[.26,.26],[.16,.15],[.48,.18],[-.96,.14],[-.72,-.33],[-1.63,-.55],[-.08,-.37],[.01,-.41],[.34,-.37],[.57,-.37],[.78,-.33],[.71,-.22],[.73,-.25],[.51,-.18],[1.22,-.65],[1.63,-.83],[1.56,-1],[1.67,-1],[1.61,-1.11],[1.64,-1.2],[2.21,-1.13],[2.34,-1.11],[.7,-1.11],[.83,-1.01],[.81,-.96],[-.31,-1.43],[0,-1.41],[.42,-1.4],[-1.375,-1.4],[-.22,-1.44]];
const nRunsHC=[[-.71,-.05,-.55,.13],[-1.36,-1.4,-1.14,-1.18],[-.07,-.11,.07,.07],[.3,-.12,.43,.01],[.4,-.75,.54,-.58]];
const nRunsPsO=[[-.74,.3,-.72,.36],[-.6,.05,-.55,.13],[-.02,-.03,.07,.07],[.62,-.8,.83,-.79]];
const nRunsPsA=[[-.82,.25,-.74,.3],[-1.08,-.4,-.71,-.05],[-1.29,-.6,-1.19,-.54],[-1.11,-1.13,-.43,-.46],[-.39,-.41,-.07,-.11],[-.33,.09,-.11,.27],[-.46,-1.18,-.24,-.99],[-.24,-.99,.18,-.52],[.08,-.36,.3,-.12],[.01,-1.09,.4,-.75],[.29,-1.11,.67,-.73],[.54,-1.05,.83,-.79],[-.64,-1.36,-.52,-1.28],[-.27,-1.38,-.11,-1.26],[.04,-1.38,.14,-1.28],[-.21,-.62,-.05,-.48],[.42,-.28,.58,-.16]];

/* ---------- Drawing helpers ---------- */
const SVGNS='http://www.w3.org/2000/svg';
const GROUP_NAMES=['hc','pso','psa'];
const PT_FILL=['#9a9a9a','#8b5548','#f07d00'];
const BOX_FILL=['#bdbdbd','#b68f87','#f4a95c'];
const LINE_COL=['#a3a1a1','#8b5a50','#f07d00'];
const AREA_FILL=['rgba(150,150,150,.24)','rgba(139,85,72,.24)','rgba(240,125,0,.24)'];

function mk(tag,attrs,parent,txt){
  const el=document.createElementNS(SVGNS,tag);
  for(const k in attrs) el.setAttribute(k,attrs[k]);
  if(txt!==undefined) el.textContent=txt;
  parent.appendChild(el);
  return el;
}
function linear(d0,d1,r0,r1){return v=>r0+(v-d0)*(r1-r0)/(d1-d0);}
function smoothPath(p){
  let d='M'+p[0][0].toFixed(1)+' '+p[0][1].toFixed(1);
  for(let i=0;i<p.length-1;i++){
    const a=p[Math.max(i-1,0)],b=p[i],c=p[i+1],e=p[Math.min(i+2,p.length-1)];
    d+='C'+(b[0]+(c[0]-a[0])/6).toFixed(1)+' '+(b[1]+(c[1]-a[1])/6).toFixed(1)+' '+(c[0]-(e[0]-b[0])/6).toFixed(1)+' '+(c[1]-(e[1]-b[1])/6).toFixed(1)+' '+c[0].toFixed(1)+' '+c[1].toFixed(1);
  }
  return d;
}
function fmtTick(t,dec){
  if(dec) return (t===0?'0.0':t.toFixed(1));
  return String(t);
}
function drawYTicks(root,ticks,y,xRight,dec){
  ticks.forEach(t=>{
    const el=mk('text',{x:xRight,y:y(t)+16,'text-anchor':'end','class':'tk'},root,fmtTick(t,dec));
    
    
  });
}
function drawXTicks(root,ticks,x,yText){
  ticks.forEach(t=>{
    const el=mk('text',{x:x(t),y:yText,'text-anchor':'middle','class':'tk'},root,String(t));
    
    
  });
}
function swarm(vals,y){
  const placed=[];
  return vals.map((v,i)=>{
    const py=y(v);
    const sign=i%2?1:-1;
    const cands=[i%3-1,0,1,-1,2,-2,3,-3];
    let off=null;
    for(const c of cands){
      const o=c*sign*8;
      if(placed.every(p=>Math.hypot(p[0]-o,p[1]-py)>=9)){off=o;break;}
    }
    if(off===null) off=(i%5-2)*6;
    placed.push([off,py]);
    return off;
  });
}
function drawBoxes(root,boxes,points,cx,step,y){
  boxes.forEach((b,g)=>{
    const x=cx+(g-1)*step;
    const hw=42;
    const w=mk('line',{x1:x,x2:x,y1:y(b[0]),y2:y(b[4]),stroke:'#111','stroke-width':5},root);
    
    
    const r=mk('rect',{x:x-hw,y:y(b[3]),width:2*hw,height:Math.max(y(b[1])-y(b[3]),.1),fill:BOX_FILL[g],stroke:'#111','stroke-width':5},root);
    
    
    const m=mk('line',{x1:x-hw,x2:x+hw,y1:y(b[2]),y2:y(b[2]),stroke:'#000','stroke-width':10},root);
    
    
    const offs=swarm(points[g],y);
    points[g].forEach((v,i)=>{
      const c=mk('circle',{cx:x+offs[i],cy:y(v),r:11.5,fill:PT_FILL[g],stroke:'#1c1c1c','stroke-width':3},root);
      
      
    });
    const my=y(b[5]);
    const dm=mk('path',{d:'M'+x+' '+(my-17)+'L'+(x+15)+' '+my+'L'+x+' '+(my+17)+'L'+(x-15)+' '+my+'Z',fill:'#fff',stroke:'#333','stroke-width':2},root);
    
    
  });
}
function drawCategory(root,label,x,yText){
  const el=mk('text',{x:x,y:yText,'class':'cat'},root,label);
  
  
}
function drawSig(root,x1,x2,yBar,stars){
  const l=mk('line',{x1:x1,x2:x2,y1:yBar,y2:yBar,stroke:'#111','stroke-width':5},root);
  
  
  const t=mk('text',{x:(x1+x2)/2,y:yBar+13,'text-anchor':'middle','font-size':70,'font-weight':700,fill:'#000'},root,stars);
  
  
}
function drawRidge(root,x,base,H,xs,vals,g,filled,sw){
  const pts=xs.map((v,i)=>[x(v),base-vals[i]*H]);
  const line=smoothPath(pts);
  if(filled){
    const a=mk('path',{d:line+'L'+pts[pts.length-1][0]+' '+base+'L'+pts[0][0]+' '+base+'Z',fill:AREA_FILL[g],stroke:'none'},root);
    
    
  }
  const p=mk('path',{d:line,fill:'none',stroke:LINE_COL[g],'stroke-width':sw,'stroke-linejoin':'round'},root);
  
  
}
function drawSideRidge(root,y,base,H,ys,vals,g){
  const pts=ys.map((v,i)=>[base+vals[i]*H,y(v)]);
  const line=smoothPath(pts);
  const a=mk('path',{d:line+'L'+base+' '+pts[pts.length-1][1]+'L'+base+' '+pts[0][1]+'Z',fill:AREA_FILL[g],stroke:'none'},root);
  
  
  const p=mk('path',{d:line,fill:'none',stroke:LINE_COL[g],'stroke-width':5},root);
  
  
}
function drawVCut(root,x,v,y1,y2){
  const l=mk('line',{x1:x(v),x2:x(v),y1:y1,y2:y2,stroke:'#222','stroke-width':4,'stroke-dasharray':'15 10'},root);
  
  
}
function drawHCut(root,y,v,x1,x2){
  const l=mk('line',{x1:x1,x2:x2,y1:y(v),y2:y(v),stroke:'#222','stroke-width':4,'stroke-dasharray':'15 10'},root);
  
  
}
function drawDensityPanel(root,x,bases,H,xs,sets,ticks,cut,tickY,cutTop,cutBot){
  sets.forEach((set,r)=>{
    set.forEach((vals,g)=>{
      drawRidge(root,x,bases[r],H,xs,vals,g,g<2,7);
    });
  });
  drawVCut(root,x,cut[0],cutTop,cutBot);
  drawXTicks(root,ticks,x,tickY);
}
function drawDots(root,x,y,dots,runs,g,op){
  runs.forEach(s=>{
    const l=mk('line',{x1:x(s[0]),y1:y(s[1]),x2:x(s[2]),y2:y(s[3]),stroke:PT_FILL[g],'stroke-width':13,'stroke-linecap':'round',opacity:op+.2},root);
    
    
  });
  dots.forEach(d=>{
    const c=mk('circle',{cx:x(d[0]),cy:y(d[1]),r:6.8,fill:PT_FILL[g],opacity:op},root);
    
    
  });
}
function drawJoint(root,cfg){
  const {x,y,topBase,topH,sideBase,sideH,topX,top,sideY,side,dots,runs,xTicks,yTicks,cut}=cfg;
  [1,2,0].forEach(g=>drawRidge(root,x,topBase,topH,topX,top[g],g,true,5));
  [1,2,0].forEach(g=>drawSideRidge(root,y,sideBase,sideH,sideY,side[g],g));
  [0,1,2].forEach(g=>drawDots(root,x,y,dots[g],runs[g],g,g===2?.68:.5));
  drawVCut(root,x,cut[0],cfg.vTop,cfg.vBot);
  drawHCut(root,y,cut[1],cfg.hLeft,cfg.hRight);
  drawXTicks(root,xTicks,x,5257);
  drawYTicks(root,yTicks,y,cfg.yRight,true);
}

/* ---------- Panel B ---------- */
(function(){
  const root=document.getElementById('marks-b');
  const x=linear(0,1,1632,1808.5);
  const y=linear(0,1,1045,893);
  drawXTicks(root,bXTicks,x,1211);
  drawYTicks(root,bYTicks,y,1393,false);
  const series=[[bInkt,'#4f9e5f','#5db677','inkt'],[bGd,'#3f87c0','#3a8fc9','gd'],[bMait,'#c9464e','#d5525c','mait']];
  const fits=series.map(s=>{
    const pts=s[0];
    const n=pts.length;
    const xb=pts.reduce((a,p)=>a+p[0],0)/n;
    const yb=pts.reduce((a,p)=>a+p[1],0)/n;
    let sxx=0,sxy=0;
    pts.forEach(p=>{sxx+=(p[0]-xb)*(p[0]-xb);sxy+=(p[0]-xb)*(p[1]-yb);});
    const m=sxy/sxx;
    const c=yb-m*xb;
    let sse=0;
    pts.forEach(p=>{const e=p[1]-(m*p[0]+c);sse+=e*e;});
    const se=Math.sqrt(sse/(n-2));
    const xs=pts.map(p=>p[0]);
    return {m,c,se,n,xb,sxx,min:Math.min(...xs),max:Math.max(...xs)};
  });
  fits.forEach((f,i)=>{
    const up=[],lo=[];
    for(let k=0;k<=16;k++){
      const v=f.min+(f.max-f.min)*k/16;
      const hw=1.96*f.se*Math.sqrt(1/f.n+(v-f.xb)*(v-f.xb)/f.sxx);
      up.push(x(v).toFixed(1)+','+y(f.m*v+f.c+hw).toFixed(1));
      lo.unshift(x(v).toFixed(1)+','+y(f.m*v+f.c-hw).toFixed(1));
    }
    const band=mk('polygon',{points:up.concat(lo).join(' '),fill:series[i][2],opacity:.13},root);
    
    
  });
  series.forEach(s=>{
    s[0].forEach(p=>{
      const px=x(p[0]),py=y(p[1]);
      let el;
      if(s[3]==='inkt') el=mk('rect',{x:px-14,y:py-14,width:28,height:28,fill:s[1],stroke:'#111','stroke-width':3.5},root);
      else if(s[3]==='gd') el=mk('path',{d:'M'+(px-21)+' '+(py+17)+'H'+(px+21)+'L'+px+' '+(py-19)+'Z',fill:s[1],stroke:'#111','stroke-width':3.5},root);
      else el=mk('circle',{cx:px,cy:py,r:16,fill:s[1],stroke:'#111','stroke-width':3.5},root);
      
      
    });
  });
  fits.forEach((f,i)=>{
    const l=mk('line',{x1:x(f.min),y1:y(f.m*f.min+f.c),x2:x(f.max),y2:y(f.m*f.max+f.c),stroke:series[i][2],'stroke-width':6},root);
    
    
  });
})();

/* ---------- Panel C ---------- */
(function(){
  const root=document.getElementById('marks-c');
  const y=linear(0,6,1174,235);
  drawYTicks(root,cTicks,y,2733,false);
  const cx=[2920,3341,3761];
  drawBoxes(root,cInktBox,cInktPts,cx[0],110.5,y);
  drawBoxes(root,cGdBox,cGdPts,cx[1],110.5,y);
  drawBoxes(root,cMaitBox,cMaitPts,cx[2],110.5,y);
  cCategories.forEach((c,i)=>drawCategory(root,c,cx[i],1270));
  drawSig(root,3232,3451,215,'****');
  drawSig(root,3232,3341,267,'*');
  drawSig(root,3654,3872,220,'**');
  drawSig(root,3764,3872,267,'*');
})();

/* ---------- Percent box panels ---------- */
function pctPanel(id,tickRight,y0,cx,step,gdBox,gdPts,mBox,mPts,catY){
  const root=document.getElementById(id);
  const y=linear(0,100,y0,y0-816);
  drawYTicks(root,pctTicks,y,tickRight,false);
  drawBoxes(root,gdBox,gdPts,cx[0],step,y);
  drawBoxes(root,mBox,mPts,cx[1],step,y);
  subsetCategories.forEach((c,i)=>drawCategory(root,c,cx[i],catY));
  return root;
}
(function(){
  const r=pctPanel('marks-d',210,2505,[391,808],109,dGdBox,dGdPts,dMaitBox,dMaitPts,2596);
  drawSig(r,284,502,1597,'****');
  drawSig(r,395,502,1649,'*');
  drawSig(r,700,920,1597,'**');
})();
(function(){
  const r=pctPanel('marks-f',2304,2505,[2483,2901],109,fGdBox,fGdPts,fMaitBox,fMaitPts,2596);
  drawSig(r,2376,2595,1602,'**');
  drawSig(r,2792,3012,1602,'**');
  drawSig(r,2792,2901,1649,'*');
})();
(function(){
  const r=pctPanel('marks-h',210,3859,[391,808],109,hGdBox,hGdPts,hMaitBox,hMaitPts,3952);
  drawSig(r,284,502,2953,'**');
  drawSig(r,395,502,3004,'**');
})();
(function(){
  const r=pctPanel('marks-j',2304,3859,[2483,2901],109,jGdBox,jGdPts,jMaitBox,jMaitPts,3952);
  drawSig(r,2376,2595,2953,'**');
  drawSig(r,2486,2595,3004,'**');
})();
(function(){
  const r=pctPanel('marks-l',593,5214,[773,1191],110,lGdBox,lGdPts,lMaitBox,lMaitPts,5307);
  drawSig(r,1081,1301,4310,'*');
  drawSig(r,1191,1301,4360,'*');
})();

/* ---------- Ridge panels ---------- */
drawDensityPanel(document.getElementById('marks-e'),linear(0,1,1600,1751),[2089,2483],344,eX,[[eGdHC,eGdPsO,eGdPsA],[eMaitHC,eMaitPsO,eMaitPsA]],eTicks,eCut,2543,1728,2503);
drawDensityPanel(document.getElementById('marks-g'),linear(0,1,3623,3750),[2086,2481],344,gX,[[gGdHC,gGdPsO,gGdPsA],[gMaitHC,gMaitPsO,gMaitPsA]],gTicks,gCut,2543,1728,2503);
drawDensityPanel(document.getElementById('marks-i'),linear(0,1,1600,1725.5),[3442,3836],344,iX,[[iGdHC,iGdPsO,iGdPsA],[iMaitHC,iMaitPsO,iMaitPsA]],iTicks,iCut,3900,3084,3855);
drawDensityPanel(document.getElementById('marks-k'),linear(0,1,3577,3672),[3442,3836],344,kX,[[kGdHC,kGdPsO,kGdPsA],[kMaitHC,kMaitPsO,kMaitPsA]],kTicks,kCut,3900,3084,3855);

/* ---------- Joint panels ---------- */
drawJoint(document.getElementById('marks-m'),{
  x:linear(0,1,2156,2291),y:linear(0,1,4793,4606.5),
  topBase:4714,topH:225,sideBase:2510,sideH:256,
  topX:mTopX,top:[mTopHC,mTopPsO,mTopPsA],
  sideY:mSideY,side:[mSideHC,mSidePsO,mSidePsA],
  dots:[mDotsHC,mDotsPsO,mDotsPsA],runs:[mRunsHC,mRunsPsO,mRunsPsA],
  xTicks:mXTicks,yTicks:mYTicks,cut:mCut,
  vTop:4735,vBot:5224,hLeft:1932,hRight:2508,yRight:1910
});
drawJoint(document.getElementById('marks-n'),{
  x:linear(0,1,3292,3414),y:linear(0,1,4920,4725.5),
  topBase:4727,topH:225,sideBase:3644,sideH:256,
  topX:nTopX,top:[nTopHC,nTopPsO,nTopPsA],
  sideY:nSideY,side:[nSideHC,nSidePsO,nSidePsA],
  dots:[nDotsHC,nDotsPsO,nDotsPsA],runs:[nRunsHC,nRunsPsO,nRunsPsA],
  xTicks:nXTicks,yTicks:nYTicks,cut:nCut,
  vTop:4747,vBot:5236,hLeft:3068,hRight:3634,yRight:3056
});

/* ---------- Keep the figure inside a shorter viewport; no effect at full 5345 height ---------- */
function fitFrame(){
  const svg=document.getElementById('figure');
  const h=window.innerHeight;
  const fit=(h>=4000&&h<5345)?h:5345;
  svg.setAttribute('height',fit);
  document.documentElement.style.height=fit+'px';
  document.body.style.height=fit+'px';
}
fitFrame();
window.addEventListener('resize',fitFrame);
</script>
</body>
</html>
